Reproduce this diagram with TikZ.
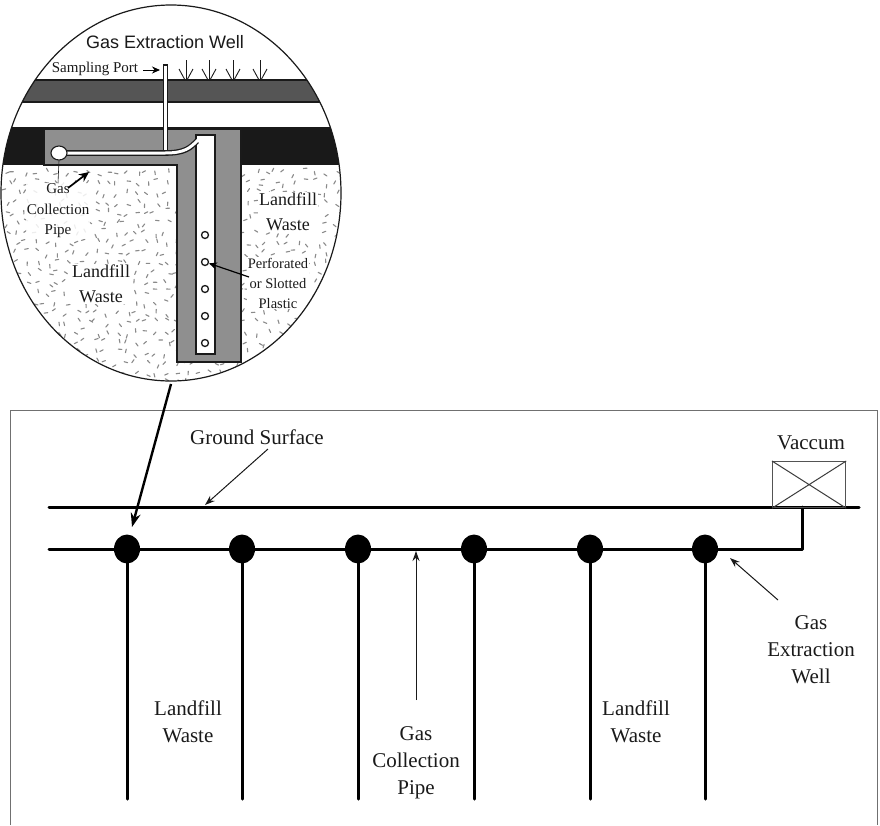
\documentclass[tikz,border=0pt]{standalone}
\usepackage{fontspec}
\setmainfont{Liberation Serif}
\newfontfamily\headfont{Liberation Sans}
\usetikzlibrary{arrows.meta,shapes.geometric}
\definecolor{bandgray}{HTML}{555555}
\definecolor{shaftgray}{HTML}{8F8F8F}
\definecolor{inkblack}{HTML}{1A1A1A}
\definecolor{specklegray}{HTML}{8A8A8A}
\definecolor{framegray}{HTML}{707070}
\tikzset{
  x=1pt,y=-1pt,
  lbl/.style={font=\fontsize{21}{27}\selectfont,align=center,inner sep=0pt,text=inkblack},
  midlbl/.style={font=\fontsize{18}{24.5}\selectfont,align=center,inner sep=1pt,text=inkblack,fill=white},
  smalllbl/.style={font=\fontsize{15}{20.5}\selectfont,align=center,inner sep=0.5pt,text=inkblack},
  heavy/.style={line width=3pt,black,line cap=round},
  wellhead/.style={ellipse,fill=black,minimum width=26pt,minimum height=29pt,inner sep=0pt},
  thinarrow/.style={line width=1pt,draw=inkblack,-{Stealth[length=10pt,width=7pt]}},
  boldarrow/.style={line width=2.4pt,draw=black,-{Stealth[length=14pt,width=10pt]}},
  outline/.style={draw=inkblack,line width=1.1pt},
  perf/.style={circle,draw=inkblack,line width=1.3pt,fill=white,minimum size=7pt,inner sep=0pt},
  rain/.style={line width=0.9pt,draw=inkblack},
}
\begin{document}
\begin{tikzpicture}
\useasboundingbox (0,0) rectangle (880,825);
\fill[white] (0,0) rectangle (880,825);
% magnified circle
\begin{scope}
  \clip (171,193) ellipse [x radius=170, y radius=188];
  \fill[white] (0,0) rectangle (345,385);
  \draw[bandgray,fill=bandgray] (0,80) rectangle (345,102);
  \draw[inkblack,line width=1.2pt] (0,80) -- (345,80) (0,102) -- (345,102);
  \fill[black!90] (0,127) rectangle (345,165);
  % speckles on a jittered grid
  \pgfmathsetseed{4217}
  \foreach \gx in {0,...,33}{
    \foreach \gy in {0,...,21}{
      \pgfmathsetmacro{\px}{\gx*10+3+rnd*7}
      \pgfmathsetmacro{\py}{\gy*10+168+rnd*7}
      \pgfmathsetmacro{\pa}{rnd*180}
      \draw[specklegray,line width=1.1pt,line cap=round]
        (\px,\py) -- ++({3.6*cos(\pa)},{3.6*sin(\pa)});
    }
  }
  % gravel shaft
  \draw[outline,fill=shaftgray] (44,129) -- (241,129) -- (241,362) -- (177,362) -- (177,165) -- (44,165) -- cycle;
  \draw[outline,fill=white,line width=1.3pt] (196,135) rectangle (215,354);
  % pipes
  \draw[inkblack,line width=5.6pt] (165.5,150) -- (165.5,64);
  \draw[white,line width=3pt] (165.5,151) -- (165.5,65.5);
  \draw[inkblack,line width=5.6pt] (62,153) -- (165,153) .. controls (185,153) and (190,148) .. (197,141);
  \draw[white,line width=3pt] (62,153) -- (165,153) .. controls (185,153) and (190,148) .. (198,140);
  % labels on the waste
  \node[smalllbl,fill=white,fill opacity=0.85,text opacity=1] (gascp) at (58,211) {Gas\\Collection\\Pipe};
  \node[midlbl] (wasteR) at (288,212) {Landfill\\Waste};
  \node[midlbl] (wasteL) at (101,284) {Landfill\\Waste};
  \node[font=\fontsize{14.5}{20}\selectfont,align=center,inner sep=1pt,text=inkblack,fill=white] (perf) at (278,283) {Perforated\\or Slotted\\Plastic};
\end{scope}
\node[draw=inkblack,line width=1.1pt,ellipse,fill=white,minimum width=16pt,minimum height=14pt,inner sep=0pt] (ball) at (59,153) {};
\foreach \n/\yy in {a/235,b/262,c/289,d/316,e/343}{
  \node[perf] (hole\n) at (205,\yy) {};
}
\draw[inkblack,line width=1.2pt] (171,193) ellipse [x radius=170, y radius=188];
% rain arrows
\foreach \xx in {186,209,233,260}{
  \draw[rain] (\xx,60) -- (\xx,80);
  \draw[rain] (\xx-7,69) -- (\xx-1,80) (\xx+7,69) -- (\xx+1,80);
}
% circle labels
\node[font=\fontsize{18}{20}\selectfont\headfont,inner sep=0pt,text=inkblack] (title) at (165,42) {Gas Extraction Well};
\node[font=\fontsize{15}{16}\selectfont,inner sep=0pt,text=inkblack] (port) at (95,69) {Sampling Port};
\coordinate (portend) at (160,70);
\draw[line width=1pt,draw=black,-{Stealth[length=8pt,width=7pt]}] (port.east) ++(5,1) -- (portend);
\draw[draw=inkblack,line width=0.6pt] (ball.south) -- (gascp.north);
\coordinate (gastip) at (89,172);
\draw[line width=1.7pt,draw=black,-{Stealth[length=10pt,width=9pt]}] (68,188) -- (gastip);
\draw[line width=1.2pt,draw=black,-{Stealth[length=8pt,width=7pt]}] (249,277) -- (holeb);
% frame
\draw[framegray,line width=1.3pt] (10.5,825) -- (10.5,410.5) -- (877.5,410.5) -- (877.5,825);
% surface
\coordinate (gsL) at (49,507);
\coordinate (gsR) at (859,507);
\coordinate (gpL) at (49,549);
\coordinate (gpC) at (802,549);
\coordinate (gpT) at (802,507);
\draw[heavy] (gsL) -- (gsR);
\draw[heavy,line join=round] (gpL) -- (gpC) -- (gpT);
% wells
\foreach \n/\xx in {1/127,2/242,3/358,4/474,5/590,6/705}{
  \node[wellhead] (w\n) at (\xx,549) {};
  \coordinate (f\n) at (\xx,799);
  \draw[heavy] (w\n.center) -- (f\n);
}
% vacuum
\node[draw=inkblack!75,line width=1.2pt,minimum width=73pt,minimum height=46pt,inner sep=0pt,anchor=north west] (vac) at (772,461) {};
\draw[draw=inkblack!85,line width=1pt] (vac.north west) -- (vac.south east) (vac.south west) -- (vac.north east);
\node[lbl] (vaclbl) at (811,443) {Vaccum};
% labels below
\node[lbl] (gs) at (257,437) {Ground Surface};
\coordinate (gstip) at (205,505);
\coordinate (gsstart) at (268,449);
\draw[thinarrow] (gsstart) -- (gstip);
\coordinate (gptip) at (416,551);
\node[lbl] (gcp) at (416,763) {Gas\\Collection\\Pipe};
\coordinate (gpstart) at (416,700);
\draw[thinarrow] (gpstart) -- (gptip);
\node[lbl] (gew) at (811,650) {Gas\\Extraction\\Well};
\coordinate (gewtip) at (730,558);
\coordinate (gewstart) at (778,600);
\draw[thinarrow] (gewstart) -- (gewtip);
\node[lbl] (lw1) at (188,722) {Landfill\\Waste};
\node[lbl] (lw2) at (636,722) {Landfill\\Waste};
% detail arrow
\coordinate (dstart) at (171,384);
\coordinate (dtip) at (132,527);
\draw[boldarrow] (dstart) -- (dtip);
\end{tikzpicture}
\end{document}
